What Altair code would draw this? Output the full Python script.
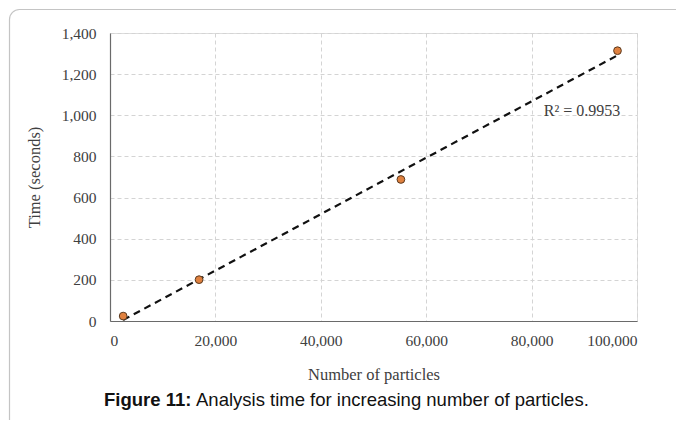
import altair as alt
import pandas as pd

particles = [2500, 16900, 55200, 96300]
seconds = [24, 201, 688, 1314]
x_ticks = [0, 20000, 40000, 60000, 80000, 100000]
y_ticks = [0, 200, 400, 600, 800, 1000, 1200, 1400]
r2_label = ["R² = 0.9953"]
r2_pos_x = [82300]
r2_pos_y = [1020]
caption_bold = "Figure 11:"
caption_rest = "Analysis time for increasing number of particles."

df = pd.DataFrame({"particles": particles, "seconds": seconds})
r2df = pd.DataFrame({"x": r2_pos_x, "y": r2_pos_y, "t": r2_label})

SERIF = "Liberation Serif"
W, H = 527, 288

xscale = alt.Scale(domain=[0, 100000], nice=False)
yscale = alt.Scale(domain=[0, 1400], nice=False)

xaxis = alt.Axis(values=x_ticks, format=",d", title="Number of particles",
                 grid=True, gridDash=[4, 3], gridColor="#d4d4d4",
                 domainColor="#6a6a6a", domainWidth=1.2, ticks=False,
                 labelFont=SERIF, labelFontSize=15.5, labelColor="#404040",
                 labelPadding=12, titleFont=SERIF, titleFontSize=16.5,
                 titleFontWeight="normal", titleColor="#404040", titlePadding=18)
yaxis = alt.Axis(values=y_ticks, format=",d", title="Time (seconds)",
                 grid=True, gridDash=[4, 3], gridColor="#d4d4d4",
                 domainColor="#6a6a6a", domainWidth=1.2, ticks=False,
                 labelFont=SERIF, labelFontSize=15.5, labelColor="#404040",
                 labelPadding=14, titleFont=SERIF, titleFontSize=16.5,
                 titleFontWeight="normal", titleColor="#404040", titlePadding=19)

base = alt.Chart(df)

trend = base.transform_regression("particles", "seconds").mark_line(
    color="#111111", strokeWidth=2.2, strokeDash=[7, 5]
).encode(
    x=alt.X("particles:Q", scale=xscale, axis=xaxis),
    y=alt.Y("seconds:Q", scale=yscale, axis=yaxis),
)

points = base.mark_point(filled=True, fill="#E0813F", stroke="#5a3a20",
                         strokeWidth=1, size=60, opacity=1).encode(
    x=alt.X("particles:Q", scale=xscale),
    y=alt.Y("seconds:Q", scale=yscale),
)

r2 = alt.Chart(r2df).mark_text(font=SERIF, fontSize=16, color="#404040",
                               align="left", baseline="middle").encode(
    x=alt.X("x:Q", scale=xscale),
    y=alt.Y("y:Q", scale=yscale),
    text="t:N",
)

one = alt.Data(values=[{"a": 1}])
frame = alt.Chart(one).mark_rect(fill=None, fillOpacity=0, stroke="#c4c4c4",
                                 strokeWidth=1.2, cornerRadius=10).encode(
    x=alt.value(-100.5), x2=alt.value(640), y=alt.value(-23.5), y2=alt.value(450)
)

cap1 = alt.Chart(one).mark_text(font="Liberation Sans", fontSize=18.5, fontWeight="bold",
                                color="#111111", align="left", baseline="middle").encode(
    x=alt.value(-6), y=alt.value(367), text=alt.value(caption_bold)
)
cap2 = alt.Chart(one).mark_text(font="Liberation Sans", fontSize=18.5,
                                color="#111111", align="left", baseline="middle").encode(
    x=alt.value(86), y=alt.value(367), text=alt.value(caption_rest)
)

chart = alt.layer(frame, trend, points, r2, cap1, cap2).properties(
    width=W, height=H,
    autosize=alt.AutoSizeParams(type="none"),
    padding={"left": 102, "top": 25, "right": 39, "bottom": 99},
).configure_view(stroke=None).configure(background="white")

chart.save("out.html", embed_options={"renderer": "svg", "actions": False})
